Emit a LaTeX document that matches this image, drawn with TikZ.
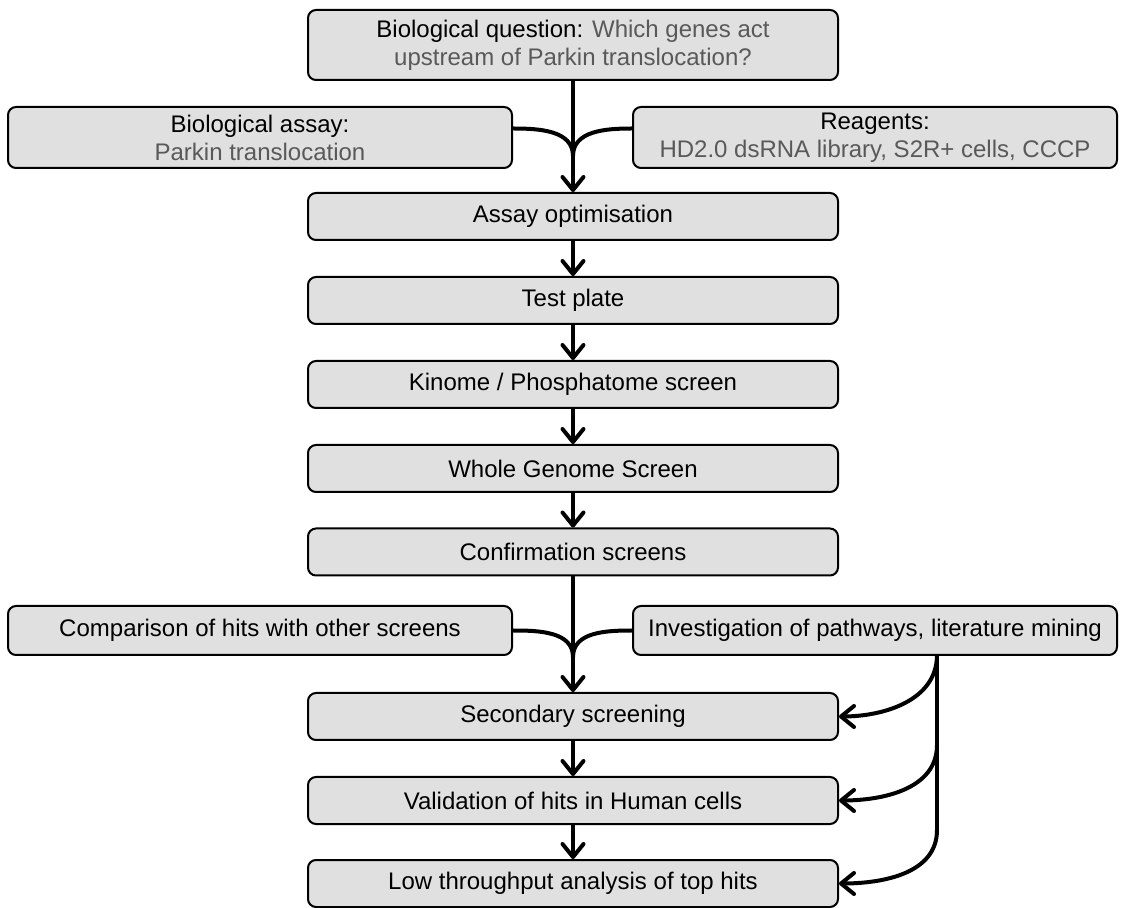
\documentclass[tikz,border=0pt]{standalone}
\usepackage{fontspec}
\setmainfont{Liberation Sans}
\usepackage{tikz}
\usetikzlibrary{arrows.meta,positioning}
\definecolor{boxfill}{RGB}{224,224,224}
\definecolor{softtext}{RGB}{89,89,89}

\begin{document}
\begin{tikzpicture}[x=0.5pt,y=0.5pt,
  stage/.style={draw=black,line width=1pt,rounded corners=4pt,fill=boxfill,
    minimum width=265pt,minimum height=23.5pt,inner sep=0pt,align=center,
    font=\fontsize{12}{14}\selectfont},
  flow/.style={line width=2pt,-{Straight Barb[length=6.5pt,width=10.5pt,round]}},
  feed/.style={line width=2pt}]
  \useasboundingbox (0,0) rectangle (1125,-908);
  % Question and inputs
  \node[stage,minimum height=35pt] (question) at (573,-45)
    {Biological question: {\color{softtext}Which genes act}\\
     {\color{softtext}upstream of Parkin translocation?}};
  \node[stage,minimum width=252pt,minimum height=30.5pt] (assay) at (260,-137.5)
    {Biological assay:\\ {\color{softtext}Parkin translocation}};
  \node[stage,minimum width=242pt,minimum height=30.5pt] (reagents) at (875,-137.5)
    {Reagents:\\ {\color{softtext}HD2.0 dsRNA library, S2R+ cells, CCCP}};
  % Screening steps
  \node[stage] (optim) at (573,-216.5) {Assay optimisation};
  \node[stage] (plate) at (573,-300.5) {Test plate};
  \node[stage] (kinome) at (573,-384.5) {Kinome / Phosphatome screen};
  \node[stage] (genome) at (573,-468.5) {Whole Genome Screen};
  \node[stage] (confirm) at (573,-552) {Confirmation screens};
  \node[stage,minimum width=252pt,minimum height=24.5pt] (compare) at (260,-630.5)
    {Comparison of hits with other screens};
  \node[stage,minimum width=242pt,minimum height=24.5pt] (pathways) at (875,-630.5)
    {Investigation of pathways, literature mining};
  \node[stage] (second) at (573,-716.5) {Secondary screening};
  \node[stage] (human) at (573,-800.5) {Validation of hits in Human cells};
  \node[stage] (lowtp) at (573,-883.5) {Low throughput analysis of top hits};
  % Merge points and side rail
  \coordinate (mergeA) at (573,-156);
  \coordinate (mergeB) at (573,-657);
  \coordinate (railA) at (937,-655);
  \coordinate (railB) at (937,-745);
  \coordinate (railC) at (937,-830);
  % Main flow
  \draw[flow] (question) -- (optim);
  \draw[feed] ([yshift=4.5pt]assay.east) to[out=0,in=90] (mergeA);
  \draw[feed] ([yshift=4.5pt]reagents.west) to[out=180,in=90] (mergeA);
  \draw[flow] (optim) -- (plate);
  \draw[flow] (plate) -- (kinome);
  \draw[flow] (kinome) -- (genome);
  \draw[flow] (genome) -- (confirm);
  \draw[flow] (confirm) -- (second);
  \draw[feed] (compare.east) to[out=0,in=90] (mergeB);
  \draw[feed] (pathways.west) to[out=180,in=90] (mergeB);
  \draw[flow] (second) -- (human);
  \draw[flow] (human) -- (lowtp);
  % Side rail to later steps
  \draw[feed] (railA) -- (railC);
  \draw[flow] (railA) to[out=-90,in=0] (second.east);
  \draw[flow] (railB) to[out=-90,in=0] (human.east);
  \draw[flow] (railC) to[out=-90,in=0] (lowtp.east);
\end{tikzpicture}
\end{document}
